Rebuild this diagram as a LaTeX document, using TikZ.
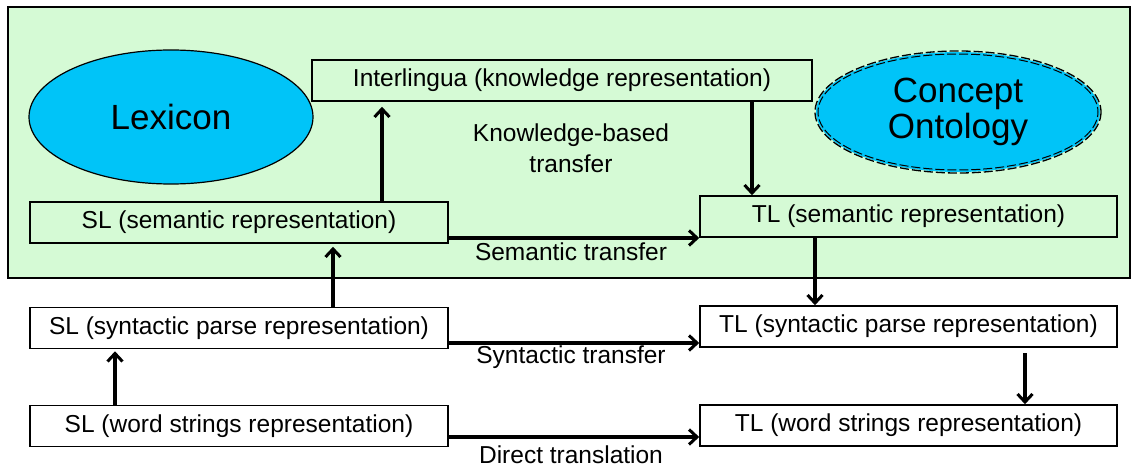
\documentclass[tikz,border=0pt]{standalone}
\usepackage{fontspec}
\setmainfont{Liberation Sans}
\usetikzlibrary{arrows.meta}
\definecolor{panelgreen}{HTML}{D5FAD5}
\definecolor{skyfill}{HTML}{00C4F8}
\begin{document}
\begin{tikzpicture}[x=1pt,y=-1pt,
  repbox/.style={draw=black,line width=1.6pt,fill=panelgreen,minimum height=41pt,inner sep=0pt,font=\fontsize{24.5}{28}\selectfont},
  plainbox/.style={repbox,fill=white},
  flow/.style={line width=3.4pt,-{Straight Barb[length=8pt,width=15pt,line width=3pt]}},
  caption/.style={font=\fontsize{24.5}{29}\selectfont,inner sep=0pt}]
\useasboundingbox (0,0) rectangle (1133,468);
\fill[white] (0,0) rectangle (1133,468);
% knowledge panel
\draw[line width=1.6pt,fill=panelgreen] (8,7) rectangle (1130,278);

% ellipses
\path[draw=black,line width=1.2pt,fill=skyfill] (171,117) ellipse [x radius=142,y radius=67];
\node[font=\fontsize{35}{40}\selectfont] (lex) at (171,117) {Lexicon};
\path[fill=skyfill] (958,112) ellipse [x radius=142,y radius=60];
\draw[line width=1.3pt,dash pattern=on 9pt off 3pt] (958,112) ellipse [x radius=143,y radius=61];
\draw[line width=1pt,dash pattern=on 9pt off 3pt,dash phase=4pt] (958,112) ellipse [x radius=140,y radius=58];
\node[font=\fontsize{35}{40}\selectfont,align=center] (onto) at (958,112) {Concept\\[-4pt]Ontology};

% interlingua and semantic level
\node[repbox,minimum width=500pt] (inter) at (562,80.5) {Interlingua (knowledge representation)};
\node[repbox,minimum width=418pt] (sls) at (239,222.5) {SL (semantic representation)};
\node[repbox,minimum width=417pt] (tls) at (908.5,216.5) {TL (semantic representation)};

% syntactic and word levels
\node[plainbox,minimum width=418pt] (sly) at (239,328) {SL (syntactic parse representation)};
\node[plainbox,minimum width=417pt] (tly) at (908.5,326.5) {TL (syntactic parse representation)};
\node[plainbox,minimum width=418pt] (slw) at (239,426) {SL (word strings representation)};
\node[plainbox,minimum width=417pt] (tlw) at (908.5,425.5) {TL (word strings representation)};

% captions
\node[caption,align=center] (kbt) at (571,148) {Knowledge-based\\[2pt]transfer};
\node[caption] (semt) at (571,252) {Semantic transfer};
\node[caption] (synt) at (571,357) {Syntactic transfer};
\node[caption] (dirt) at (571,455) {Direct translation};

% vertical connectors
\draw[flow,shorten >=5pt] (sls.north -| 382,0) -- (inter.south -| 382,0);
\draw[flow] (inter.south -| 752,0) -- (tls.north -| 752,0);
\draw[flow,shorten >=3pt] (sly.north -| 333,0) -- (sls.south -| 333,0);
\draw[flow] (tls.south -| 815,0) -- (tly.north -| 815,0);
\draw[flow,shorten >=2pt] (slw.north -| 115,0) -- (sly.south -| 115,0);
\coordinate (tlyout) at (1025,353);
\draw[flow] (tlyout) -- (tlw.north -| tlyout);

% horizontal connectors
\draw[flow] (sls.east |- 0,238) -- (tls.west |- 0,238);
\draw[flow] (sly.east |- 0,343) -- (tly.west |- 0,343);
\draw[flow] (slw.east |- 0,437) -- (tlw.west |- 0,437);
\end{tikzpicture}
\end{document}
